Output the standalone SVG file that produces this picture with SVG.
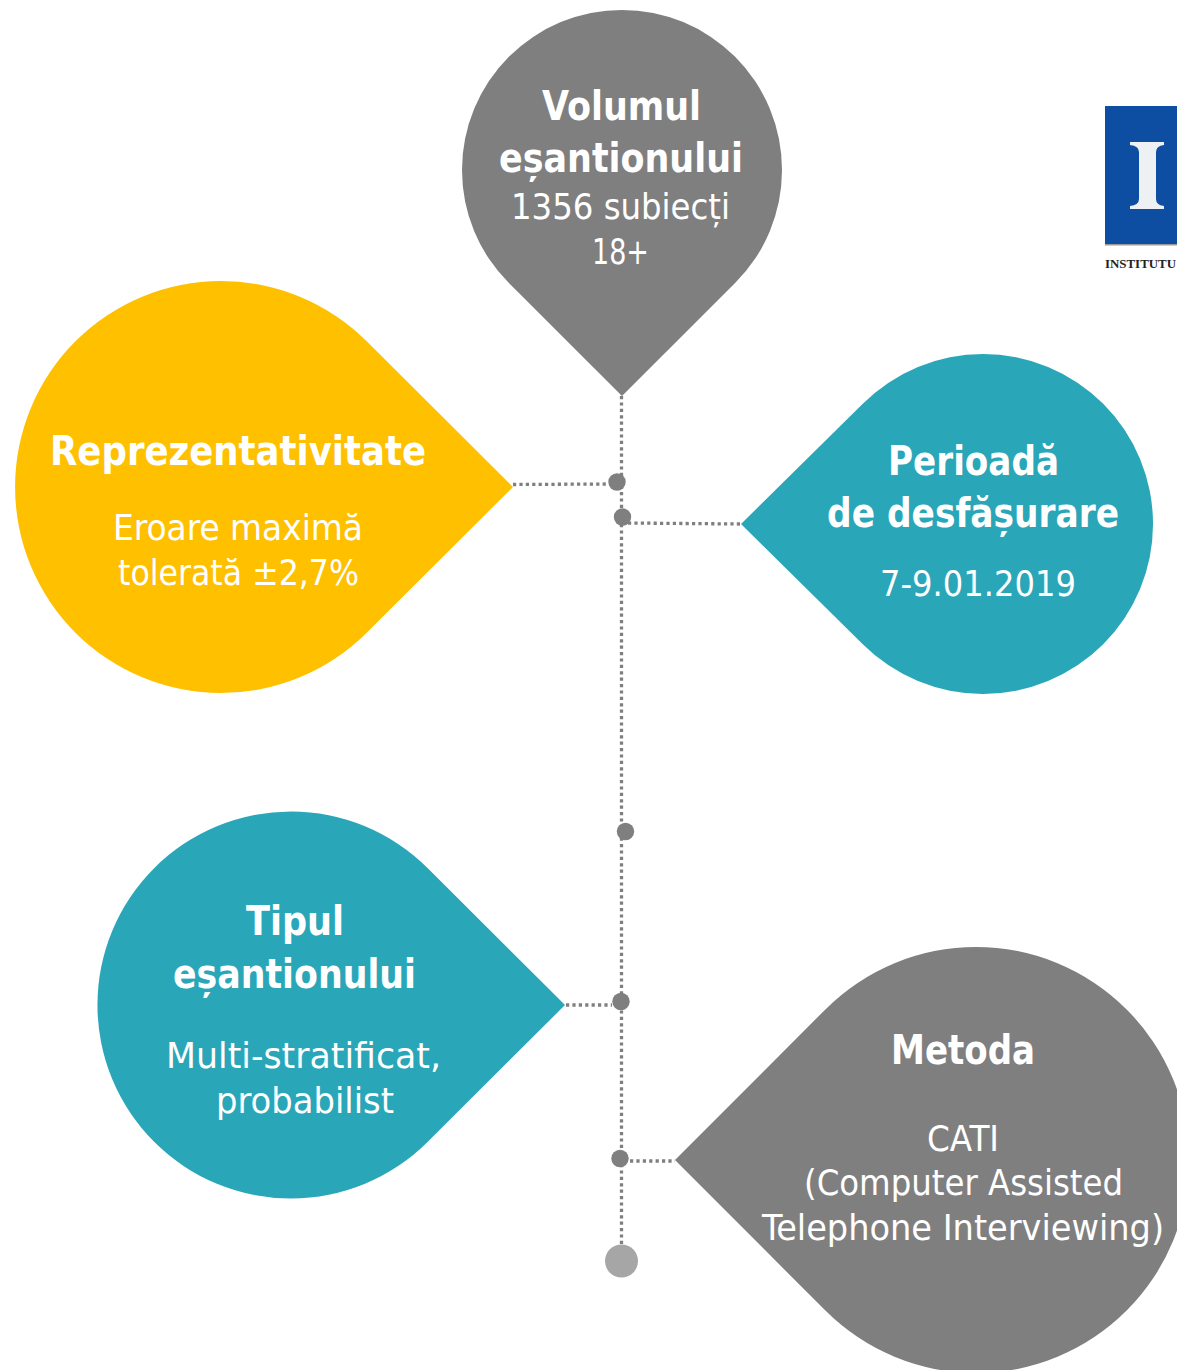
<svg xmlns="http://www.w3.org/2000/svg" width="1177" height="1370" viewBox="0 0 1177 1370">
<style>
text{font-family:"DejaVu Sans Condensed","DejaVu Sans","Noto Sans",sans-serif;font-stretch:condensed;fill:#fff;text-anchor:middle}
.h{font-size:40px;font-weight:700}
.b{font-size:35px}
.g{fill:#7f7f7f}.t{fill:#2aa6b9}.y{fill:#ffc000}
.d{fill:#7f7f7f}
.c{fill:none;stroke:#7f7f7f;stroke-width:3.300;stroke-dasharray:3.200 3.200}
</style>
<rect width="1177" height="1370" fill="#fff"/>
<g id="connectors">
<path class="c" d="M621.500 396V1246"/>
<path class="c" d="M513 484.500L610 484"/>
<path class="c" d="M628 523L741 524"/>
<path class="c" d="M566 1005L612 1005"/>
<path class="c" d="M630 1161L675 1161"/>
<circle class="d" cx="617" cy="482" r="8.700"/>
<circle class="d" cx="622.500" cy="517" r="8.700"/>
<circle class="d" cx="625.500" cy="831.500" r="8.700"/>
<circle class="d" cx="621" cy="1001.500" r="8.700"/>
<circle class="d" cx="620" cy="1158.500" r="8.700"/>
<circle cx="621.500" cy="1261" r="16.500" fill="#a6a6a6"/>
</g>
<g id="volum">
<path class="g" d="M622 396L508.900 283.100A160 160 0 1 1 735.100 283.100Z"/>
<text class="h" x="621.500" y="120" textLength="159" lengthAdjust="spacingAndGlyphs">Volumul</text>
<text class="h" x="621" y="172" textLength="244" lengthAdjust="spacingAndGlyphs">eșantionului</text>
<text class="b" x="620.500" y="219" textLength="219" lengthAdjust="spacingAndGlyphs">1356 subiecți</text>
<text class="b" x="620.500" y="264" textLength="57" lengthAdjust="spacingAndGlyphs">18+</text>
</g>
<g id="reprezentativitate">
<path class="y" d="M513 487L366.700 632.700A206 206 0 1 1 366.700 341.300Z"/>
<text class="h" x="238" y="465" textLength="376" lengthAdjust="spacingAndGlyphs">Reprezentativitate</text>
<text class="b" x="238" y="540" textLength="250" lengthAdjust="spacingAndGlyphs">Eroare maximă</text>
<text class="b" x="238.500" y="585" textLength="241" lengthAdjust="spacingAndGlyphs">tolerată ±2,7%</text>
</g>
<g id="perioada">
<path class="t" d="M741 524L862.800 403.800A170 170 0 1 1 862.800 644.200Z"/>
<text class="h" x="973.500" y="475" textLength="171" lengthAdjust="spacingAndGlyphs">Perioadă</text>
<text class="h" x="973" y="527" textLength="292" lengthAdjust="spacingAndGlyphs">de desfășurare</text>
<text class="b" x="978" y="596" textLength="196" lengthAdjust="spacingAndGlyphs">7-9.01.2019</text>
</g>
<g id="tipul">
<path class="t" d="M565 1005L427.800 1141.800A193.500 193.500 0 1 1 427.800 868.200Z"/>
<text class="h" x="295" y="935" textLength="98" lengthAdjust="spacingAndGlyphs">Tipul</text>
<text class="h" x="294.500" y="988" textLength="243" lengthAdjust="spacingAndGlyphs">eșantionului</text>
<text class="b" x="303.500" y="1068" textLength="275" lengthAdjust="spacingAndGlyphs">Multi-stratificat,</text>
<text class="b" x="305" y="1113" textLength="178" lengthAdjust="spacingAndGlyphs">probabilist</text>
</g>
<g id="metoda">
<path class="g" d="M675 1160L825.400 1009.400A213 213 0 1 1 825.400 1310.600Z"/>
<text class="h" x="963" y="1064" textLength="144" lengthAdjust="spacingAndGlyphs">Metoda</text>
<text class="b" x="963" y="1151" textLength="72" lengthAdjust="spacingAndGlyphs">CATI</text>
<text class="b" x="963.500" y="1195" textLength="319" lengthAdjust="spacingAndGlyphs">(Computer Assisted</text>
<text class="b" x="963" y="1240" textLength="402" lengthAdjust="spacingAndGlyphs">Telephone Interviewing)</text>
</g>
<g id="logo">
<rect x="1105" y="106" width="72" height="139" fill="#0d4ea3"/>
<rect x="1105" y="244" width="72" height="1.500" fill="#9a9a9a"/>
<path d="M1130 142H1164V145Q1156 146 1156 152V199Q1156 205 1164 206V209H1130V206Q1139 205 1139 199V152Q1139 146 1130 145Z" fill="#eef1f3"/>
<text x="1105" y="268" textLength="71" lengthAdjust="spacingAndGlyphs" style="font-family:'Liberation Serif',serif;font-stretch:normal;font-size:13px;font-weight:700;fill:#222;text-anchor:start">INSTITUTU</text>
</g>
</svg>
